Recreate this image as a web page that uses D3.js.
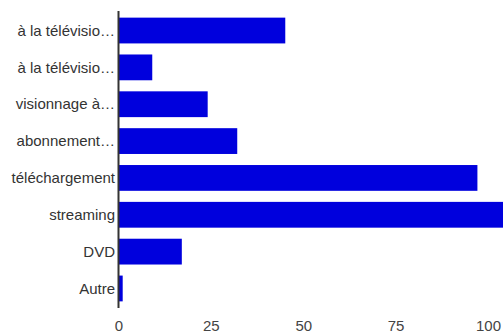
<!DOCTYPE html>
<html><head><meta charset="utf-8">
<script src="https://cdn.jsdelivr.net/npm/d3@7"></script>
<style>body{margin:0;background:#fff}svg{display:block}</style>
</head><body>
<script>
const categories = ["à la télévisio…","à la télévisio…","visionnage à…","abonnement…","téléchargement","streaming","DVD","Autre"];
const values = [45, 9, 24, 32, 97, 106, 17, 1];
const xTicks = [0, 25, 50, 75, 100];

const W = 503, H = 334;
const svg = d3.select("body").append("svg").attr("width", W).attr("height", H);
const x = d3.scaleLinear().domain([0, 100]).range([119, 488.5]);
const y = d3.scaleBand().domain(d3.range(categories.length)).range([11, 308]).paddingInner(0.3).paddingOuter(0.18);

svg.append("g").selectAll("rect").data(values).join("rect")
  .attr("x", x(0)).attr("y", (d, i) => y(i))
  .attr("width", d => x(d) - x(0)).attr("height", y.bandwidth())
  .attr("fill", "#0000dd");

svg.append("g").selectAll("text").data(categories).join("text")
  .attr("x", 115).attr("y", (d, i) => y(i) + y.bandwidth() / 2)
  .attr("dy", "0.35em").attr("text-anchor", "end")
  .attr("font-family", "Liberation Sans, Arial, sans-serif").attr("font-size", 15)
  .attr("fill", "#333").text(d => d);

svg.append("line").attr("x1", 118.5).attr("x2", 118.5).attr("y1", 11).attr("y2", 308)
  .attr("stroke", "#333").attr("stroke-width", 2);

svg.append("g").selectAll("text").data(xTicks).join("text")
  .attr("x", d => x(d)).attr("y", 326).attr("dy", "0.35em").attr("text-anchor", "middle")
  .attr("font-family", "Liberation Sans, Arial, sans-serif").attr("font-size", 15)
  .attr("fill", "#444").text(d => d);
</script>
</body></html>
